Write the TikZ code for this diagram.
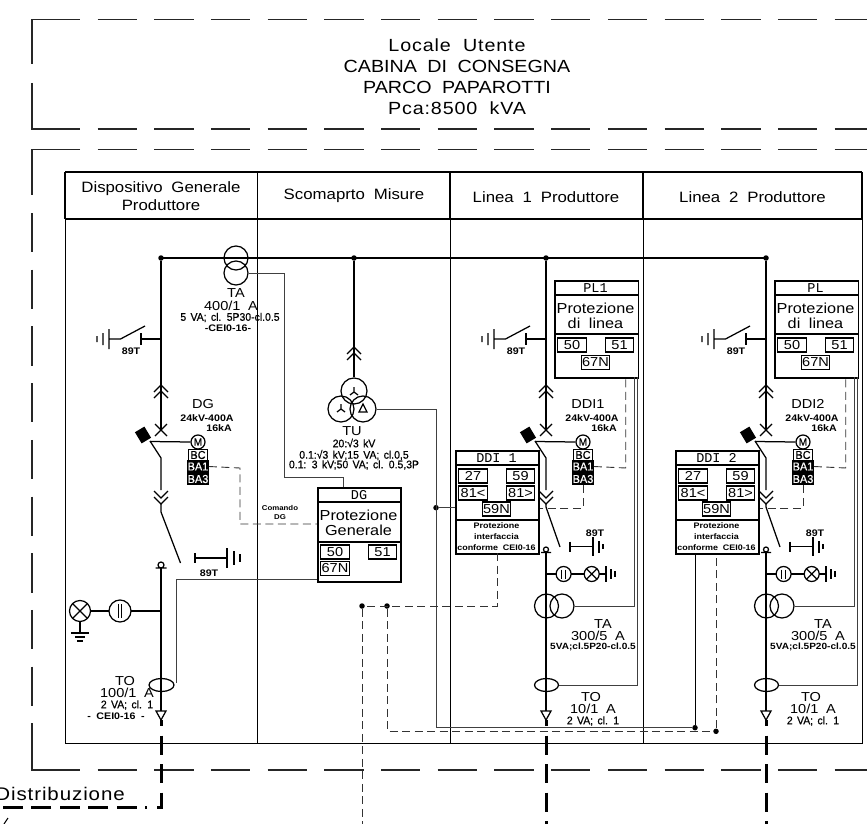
\documentclass[tikz,border=0pt]{standalone}
\usepackage{fontspec}
\setmainfont[FakeStretch=1.12,WordSpace=1.9]{Liberation Sans}
\setmonofont{Liberation Mono}
\newfontfamily\tagfont[FakeStretch=0.95,WordSpace=1.5,FakeBold=0.6]{Liberation Sans}
\newfontfamily\widefont[FakeStretch=1.12,WordSpace=1.9,LetterSpace=5]{Liberation Sans}
\usetikzlibrary{positioning}

\tikzset{
  wire/.style={line width=1.25pt,black},
  sec/.style={line width=1pt,black!75},
  frame/.style={line width=1.2pt,black!85,dash pattern=on 39.3pt off 17.4pt},
  framesolid/.style={line width=1.2pt,black!85},
  grid/.style={line width=1pt,black},
  gridtop/.style={line width=1.4pt,black},
  ctrl/.style={line width=0.9pt,black!80,dash pattern=on 8pt off 4.5pt},
  feeder/.style={line width=3pt,black,dash pattern=on 19pt off 9.5pt},
  dot/.style={circle,fill=black,inner sep=0,minimum size=5.5pt},
  ring/.style={circle,draw,line width=1.25pt,inner sep=0,minimum size=24pt},
  relay/.style={draw,line width=1.5pt,inner sep=0,anchor=north west},
  cell/.style={draw,line width=1.2pt,inner sep=0,minimum width=28.5pt,minimum height=14pt,font=\fontsize{13}{13}\selectfont},
  aux/.style={draw,line width=1pt,inner sep=0,minimum width=19pt,minimum height=11.5pt,font=\tagfont\fontsize{11.5}{11.5}\selectfont},
  auxon/.style={aux,fill=black,text=white},
  title/.style={inner sep=0,font=\fontsize{17.6}{17.6}\selectfont},
  titlewide/.style={inner sep=0,font=\widefont\fontsize{17.6}{17.6}\selectfont},
  head/.style={inner sep=0,font=\fontsize{15}{15}\selectfont},
  relhead/.style={inner sep=0,font=\ttfamily\fontsize{13.5}{13.5}\selectfont},
  relname/.style={inner sep=0,font=\fontsize{14.5}{14.5}\selectfont},
  tagb/.style={inner sep=0,font=\fontsize{13}{13}\selectfont},
  tagc/.style={inner sep=0,font=\tagfont\fontsize{11}{11}\selectfont},
  tagd/.style={inner sep=0,font=\bfseries\fontsize{9.5}{9.5}\selectfont},
  tage/.style={inner sep=0,font=\bfseries\fontsize{8}{8}\selectfont},
}

\newcommand{\upchev}[1]{\draw[wire] (-7,#1+7) -- (0,#1) -- (7,#1+7) (-7,#1+13) -- (0,#1+6) -- (7,#1+13);}
\newcommand{\downchev}[1]{\draw[wire] (-7,#1) -- (0,#1+7) -- (7,#1) (-7,#1+6) -- (0,#1+13) -- (7,#1+6);}
\newcommand{\lamp}[3]{
  \draw[wire] (#1,#2) circle (#3pt);
  \draw[wire] (#1-0.7*#3,#2-0.7*#3) -- (#1+0.7*#3,#2+0.7*#3) (#1-0.7*#3,#2+0.7*#3) -- (#1+0.7*#3,#2-0.7*#3);
}
\newcommand{\volt}[3]{
  \draw[wire] (#1,#2) circle (#3pt);
  \draw[wire] (#1-1.8,#2-0.6*#3) -- (#1-1.8,#2+0.6*#3) (#1+1.8,#2-0.6*#3) -- (#1+1.8,#2+0.6*#3);
}
% bus, earth switch, disconnector, breaker and its auxiliaries
\newcommand{\bayupper}{
  \node[dot] (bus) at (0,258) {};
  \coordinate (brk) at (0,430);
  \draw[wire] (bus) -- (brk);
  \draw[wire] (-6,424) -- (6,436) (-6,436) -- (6,424);
  \upchev{385}
  \draw[wire] (0,339) -- (-20,339) (-20,333) -- (-20,345);
  \draw[wire] (-16,326) -- (-40.5,339) -- (-52,339) (-52,329) -- (-52,349) (-58,333) -- (-58,345) (-64,336) -- (-64,342);
  \node[tagd] at (-30,351.5) {89T};
  \node[fill=black,minimum width=13pt,minimum height=11pt,inner sep=0,rotate=-59] (sq) at (-18,435) {};
  \node[circle,draw,line width=1.25pt,inner sep=0,minimum size=14pt,font=\tagfont\fontsize{10.5}{10.5}\selectfont] (mot) at (37,442) {M};
  \draw[wire] (-11,441.5) -- (mot.west);
  \draw[wire] (-11,441) -- (0,458) -- (0,490);
  \downchev{491}
  \node[aux] (bc) at (37,455) {BC};
  \node[auxon] (ba1) at (37,466.5) {BA1};
  \node[auxon] (ba3) at (37,479) {BA3};
}
% relay box of a line bay and the parts under the breaker
\newcommand{\baylower}[3]{
  \bayupper
  \node[relay,minimum width=83.5pt,minimum height=97pt] (PL) at (8,280) {};
  \draw[relay] (PL.west |- 0,295) -- (PL.east |- 0,295) (PL.west |- 0,334) -- (PL.east |- 0,334);
  \node[relhead] at (49.5,288) {#1};
  \node[relname] at (49.5,308) {Protezione};
  \node[relname] at (49.5,323) {di linea};
  \node[cell] at (26,345) {50};
  \node[cell] at (73.5,345) {51};
  \node[cell] at (49.5,362.5) {67N};
  \node[tagb] at (42,404) {#2};
  \node[tagd,anchor=center] at (46,418) {24kV-400A};
  \node[tagd,anchor=east] at (71,428) {16kA};
  \node[relay,minimum width=83pt,minimum height=103pt] (DDI) at (-91,450) {};
  \draw[relay] (DDI.west |- 0,465) -- (DDI.east |- 0,465) (DDI.west |- 0,520) -- (DDI.east |- 0,520);
  \node[relhead] at (-49.5,458) {#3};
  \node[cell] at (-73,476) {27};
  \node[cell] at (-25.5,476) {59};
  \node[cell] at (-73,493) {81<};
  \node[cell] at (-25.5,493) {81>};
  \node[cell] at (-49.5,509) {59N};
  \node[tage] at (-49.5,526) {Protezione};
  \node[tage] at (-49.5,537) {interfaccia};
  \node[tage] at (-49.5,548) {conforme CEI0-16};
  \draw[ctrl] (ba1.east) -- (79.7,468) -- (79.7,377);
  \draw[ctrl] (ba3.south) -- (37,508) -- (DDI.east |- 0,508);
  \draw[wire] (0,503) -- (0,507) -- (14,547);
  \draw[wire] (24,541.5) -- (24,552) (24,546.7) -- (47,546.7) (47,537) -- (47,556) (53,541) -- (53,553) (57,544) -- (57,549);
  \node[tagd] at (49,533) {89T};
  \draw[wire] (0,549.5) circle (2.5pt) (-5,552.5) -- (5,552.5);
  \node[ring] (TA) at (0.5,606) {};
  \node[ring] (TAs) at (16,606) {};
  \draw[wire] (0,552.5) -- (0,711);
  \draw[wire] (0,574) -- (10,574) (25,574) -- (38,574) (53,574) -- (60,574) (60,566) -- (60,582) (65,569) -- (65,579) (69,571) -- (69,577);
  \volt{17.6}{574}{7.5}
  \lamp{45.7}{574}{7.5}
  \draw[wire] (0.5,685) ellipse (12pt and 6.5pt);
  \draw[sec] (TAs.east) -- (88,606) -- (88,377);
  \draw[sec] (12.5,685) -- (91,685) -- (91,377);
  \draw[wire] (-5,711) -- (5,711) -- (0,720) -- cycle;
  \node[tagb] at (57,624) {TA};
  \node[tagb] at (52,635.5) {300/5 A};
  \node[tagd,font=\bfseries\fontsize{9}{9}\selectfont] at (47,647) {5VA;cl.5P20-cl.0.5};
  \node[tagb] at (45,697) {TO};
  \node[tagb] at (47,708.5) {10/1 A};
  \node[tagc] at (47,721) {2 VA; cl. 1};
  \draw[feeder,dash phase=13] (0,720) -- (0,824);
}

\begin{document}
\begin{tikzpicture}[x=1pt,y=-1pt]
\useasboundingbox (0,0) rectangle (867,824);

% dashed rooms
\draw[framesolid] (32,64) -- (32,19.5) -- (80,19.5);
\draw[framesolid] (32,83) -- (32,129) -- (80,129);
\draw[frame] (97.5,19.5) -- (867,19.5);
\draw[frame] (97.5,129) -- (867,129);
\draw[framesolid] (80,149.5) -- (32,149.5) -- (32,195);
\draw[frame] (97.5,149.5) -- (867,149.5);
\draw[frame] (32,213) -- (32,726);
\draw[framesolid] (32,726) -- (32,770) -- (80,770);
\draw[frame] (97.5,770) -- (867,770);

\node[titlewide] at (457,45) {Locale Utente};
\node[title] at (457,66) {CABINA DI CONSEGNA};
\node[title] at (457,87) {PARCO PAPAROTTI};
\node[titlewide] at (457,108) {Pca:8500 kVA};

% table
\draw[grid] (65,172) rectangle (862,743);
\draw[gridtop] (65,172) -- (862,172) (65,219) -- (862,219);
\draw[gridtop] (65,172) -- (65,219) (257.5,172) -- (257.5,219) (450,172) -- (450,219) (643,172) -- (643,219) (862,172) -- (862,219);
\draw[grid] (257.5,219) -- (257.5,743);
\draw[grid] (450,219) -- (450,743);
\draw[grid] (643,219) -- (643,743);
\node[head] at (161,188.5) {Dispositivo Generale};
\node[head] at (161,205.5) {Produttore};
\node[head] at (354,196) {Scomaprto Misure};
\node[head] at (546,197) {Linea 1 Produttore};
\node[head] at (752.5,197) {Linea 2 Produttore};

% bus
\draw[wire] (161,258) -- (766,258);

% first bay
\begin{scope}[xshift=161pt,name prefix=G-]
\bayupper
\node[tagb] at (42,404) {DG};
\node[tagd] at (46,418) {24kV-400A};
\node[tagd,anchor=east] at (71,428) {16kA};
\draw[wire] (0,503) -- (0,512) -- (19.5,563);
\draw[wire] (34,553) -- (34,563) (34,558) -- (66,558) (66,548) -- (66,568) (73,551) -- (73,565) (79,554) -- (79,562);
\node[tagd] at (48,573) {89T};
\draw[wire] (0,565) circle (3pt) (-5.5,568) -- (5.5,568);
\draw[wire] (0,568) -- (0,711);
\draw[wire] (0,611) -- (-30,611) (-52,611) -- (-70.5,611);
\volt{-41}{611}{11}
\lamp{-81}{611}{10.5}
\draw[wire] (-81,621.5) -- (-81,633) (-90,633) -- (-72,633) (-86,637) -- (-76,637) (-84,641) -- (-78,641);
\draw[wire] (0.5,685) ellipse (12.5pt and 6.5pt);
\draw[wire] (-5,711) -- (5,711) -- (0,720) -- cycle;
\node[tagb] at (-36,681) {TO};
\node[tagb] at (-34,693) {100/1 A};
\node[tagc] at (-34,705) {2 VA; cl. 1};
\node[tagd] at (-45,716) {- CEI0-16 -};
\end{scope}
\draw[sec] (176,683) -- (176,579.5) -- (317,579.5);
\draw[feeder,dash phase=13] (161,720) -- (161,807) -- (145,807);
\draw[feeder,dash pattern=on 20pt off 8.5pt] (136.5,807) -- (0,807);
\node[inner sep=0,anchor=base east,font=\widefont\fontsize{18.3}{18.3}\selectfont] at (125,800) {Distribuzione};
\draw[line width=1pt] (4,824) -- (8,818);

% metering CT
\node[ring] (TAm) at (236,258) {};
\node[ring] (TAg) at (236,273) {};
\node[tagb] at (236,293) {TA};
\node[tagb] at (231,305.5) {400/1 A};
\node[tagc] at (230,317.5) {5 VA; cl. 5P30-cl.0.5};
\node[tagd] at (228,328) {-CEI0-16-};

% DG relay
\node[relay,minimum width=83pt,minimum height=94pt] (DG) at (317,487) {};
\draw[relay] (DG.west |- 0,502) -- (DG.east |- 0,502) (DG.west |- 0,542) -- (DG.east |- 0,542);
\node[relhead] at (359,495) {DG};
\node[relname] at (358.5,515) {Protezione};
\node[relname] at (358.5,530) {Generale};
\node[cell] at (335,552) {50};
\node[cell] at (382.5,552) {51};
\node[cell] at (335,568.5) {67N};
\draw[sec] (TAg.east) -- (284,273) -- (284,477) -- (343,477) -- (343,487);
\draw[ctrl] (G-ba1.east) -- (240,468) -- (240,524) -- (DG.west |- 0,524);
\node[tage,font=\bfseries\fontsize{7}{7}\selectfont] at (280,508) {Comando};
\node[tage,font=\bfseries\fontsize{7}{7}\selectfont] at (280,517) {DG};

% TU
\node[dot] (busTU) at (354,258) {};
\node[circle,draw,line width=1.25pt,inner sep=0,minimum size=26pt] (TUa) at (354,391) {};
\node[circle,draw,line width=1.25pt,inner sep=0,minimum size=26pt] (TUb) at (341,409) {};
\node[circle,draw,line width=1.25pt,inner sep=0,minimum size=26pt] (TUc) at (363,409) {};
\draw[wire] (busTU) -- (TUa.north);
\begin{scope}[xshift=354pt]
\upchev{347}
\end{scope}
\draw[wire] (354,392) -- (354,387) (354,392) -- (350,395) (354,392) -- (358,395);
\draw[wire] (341,409) -- (341,404) (341,409) -- (337,412) (341,409) -- (345,412);
\draw[wire] (363,404) -- (359,412) -- (367,412) -- cycle;
\node[tagb] at (352,431) {TU};
\node[tagc] at (354,443) {20:√3 kV};
\node[tagc] at (354,455) {0.1:√3 kV;15 VA; cl.0,5};
\node[tagc] at (354,465) {0.1: 3 kV;50 VA; cl. 0.5,3P};

% line bays
\begin{scope}[xshift=546pt,name prefix=A-]
\baylower{PL1}{DDI1}{DDI 1}
\end{scope}
\begin{scope}[xshift=766pt,name prefix=B-]
\baylower{PL}{DDI2}{DDI 2}
\end{scope}

% voltage and control links
\node[dot] (TUdot) at (436,507.7) {};
\node[dot] (TUend) at (695,727.7) {};
\draw[sec] (TUc.east) -- (436,409) -- (436,727.7) -- (TUend);
\draw[sec] (TUdot) -- (TUdot -| A-DDI.west);
\draw[line width=1pt,black] (TUend) -- (TUend |- B-DDI.south);
\node[dot] (ctrlA) at (362,606) {};
\node[dot] (ctrlB) at (387,606) {};
\node[dot] (ctrlC) at (716,731.3) {};
\draw[ctrl] (497,553) -- (497,606) -- (ctrlA);
\draw[ctrl] (ctrlA) -- (362,824);
\draw[ctrl] (ctrlB) -- (387,731.3) -- (ctrlC);
\draw[ctrl] (ctrlC) -- (ctrlC |- B-DDI.south);

\end{tikzpicture}
\end{document}
